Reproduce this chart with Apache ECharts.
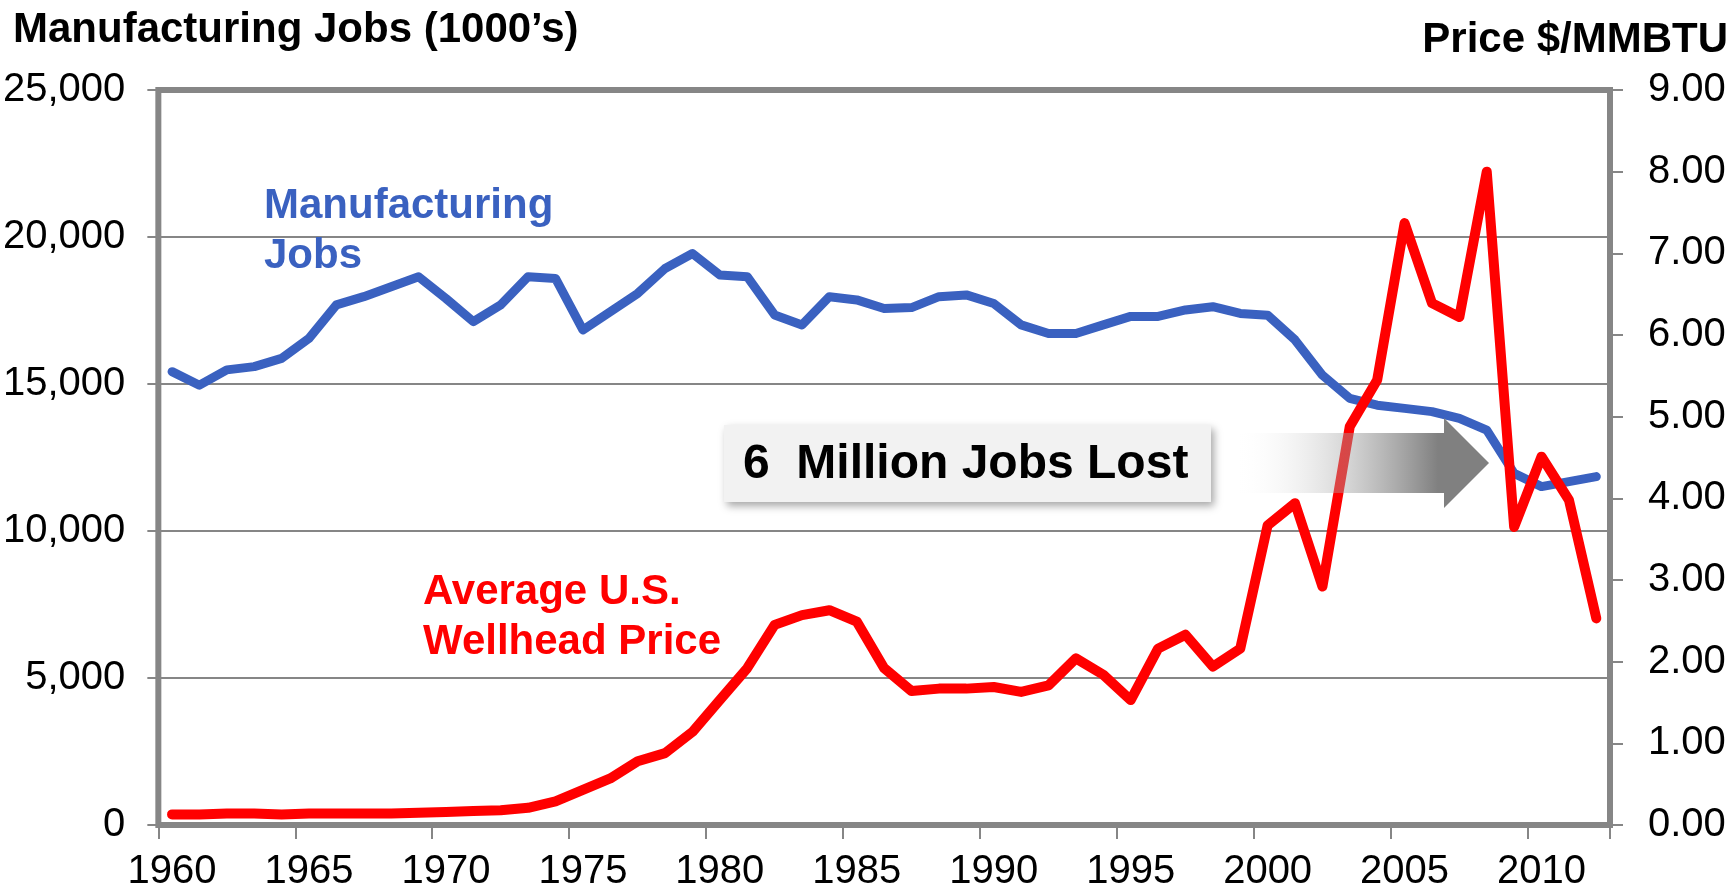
<!DOCTYPE html>
<html>
<head>
<meta charset="utf-8">
<script src="https://cdn.jsdelivr.net/npm/echarts@6/dist/echarts.min.js"></script>
<style>
html,body{margin:0;padding:0;background:#fff;}
#chart{width:1733px;height:895px;}
</style>
</head>
<body>
<div id="chart"></div>
<script>
var years = ['1960','1961','1962','1963','1964','1965','1966','1967','1968','1969',
  '1970','1971','1972','1973','1974','1975','1976','1977','1978','1979',
  '1980','1981','1982','1983','1984','1985','1986','1987','1988','1989',
  '1990','1991','1992','1993','1994','1995','1996','1997','1998','1999',
  '2000','2001','2002','2003','2004','2005','2006','2007','2008','2009',
  '2010','2011','2012'];

var manufacturingJobs = [15420,14960,15480,15590,15870,16550,17690,17970,18310,18650,
  17910,17120,17690,18650,18590,16840,17460,18080,18930,19440,
  18710,18650,17350,17010,17970,17860,17570,17600,17970,18030,
  17740,17010,16720,16720,17010,17300,17300,17520,17630,17400,
  17340,16500,15300,14510,14280,14170,14060,13830,13430,11960,
  11510,11680,11850];

var wellheadPrice = [0.13,0.13,0.14,0.14,0.13,0.14,0.14,0.14,0.14,0.15,
  0.16,0.17,0.18,0.21,0.29,0.43,0.57,0.78,0.88,1.14,
  1.53,1.92,2.45,2.57,2.63,2.49,1.92,1.64,1.67,1.67,
  1.69,1.63,1.71,2.04,1.84,1.53,2.16,2.33,1.94,2.16,
  3.67,3.94,2.92,4.88,5.45,7.37,6.39,6.22,8.00,3.65,
  4.51,3.98,2.53];

var leftTickLabels = ['0','5,000','10,000','15,000','20,000','25,000'];
var rightTickLabels = ['0.00','1.00','2.00','3.00','4.00','5.00','6.00','7.00','8.00','9.00'];

var FONT = '"Liberation Sans", Arial, Helvetica, sans-serif';
var GRAY = '#868686';

var chart = echarts.init(document.getElementById('chart'), null, {renderer:'canvas'});

var option = {
  animation: false,
  backgroundColor: '#ffffff',
  grid: {
    left: 156, right: 123, top: 90, bottom: 70,
    show: true, borderColor: GRAY, borderWidth: 6, backgroundColor: 'transparent'
  },
  xAxis: {
    type: 'category',
    data: years,
    boundaryGap: true,
    axisLine: {show: false},
    axisTick: {show: true, interval: 4, length: 14, alignWithLabel: false,
      lineStyle: {color: GRAY, width: 2}},
    axisLabel: {interval: 4, color: '#000', fontSize: 40, fontFamily: FONT, margin: 27},
    splitLine: {show: false}
  },
  yAxis: [
    {
      type: 'value', position: 'left', min: 0, max: 25000, interval: 5000,
      axisLine: {show: false},
      axisTick: {show: true, length: 11, lineStyle: {color: GRAY, width: 2}},
      axisLabel: {color: '#000', fontSize: 40, fontFamily: FONT, margin: 33,
        formatter: function (v) { return leftTickLabels[Math.round(v / 5000)]; }},
      splitLine: {show: true, lineStyle: {color: GRAY, width: 2}}
    },
    {
      type: 'value', position: 'right', min: 0, max: 9, interval: 1,
      axisLine: {show: false},
      axisTick: {show: true, length: 13, lineStyle: {color: GRAY, width: 2}},
      axisLabel: {color: '#000', fontSize: 40, fontFamily: FONT, margin: 38,
        formatter: function (v) { return rightTickLabels[Math.round(v)]; }},
      splitLine: {show: false}
    }
  ],
  series: [
    {
      name: 'Manufacturing Jobs', type: 'line', yAxisIndex: 0,
      data: manufacturingJobs, showSymbol: false, symbol: 'none', z: 3,
      lineStyle: {color: '#3A61C0', width: 9, cap: 'round', join: 'round'}
    },
    {
      name: 'Average U.S. Wellhead Price', type: 'line', yAxisIndex: 1,
      data: wellheadPrice, showSymbol: false, symbol: 'none', z: 4,
      lineStyle: {color: '#FF0000', width: 10, cap: 'round', join: 'round'}
    }
  ],
  graphic: {
    elements: [
      {type: 'text', z: 100, style: {x: 13, y: 30, text: 'Manufacturing Jobs (1000\u2019s)',
        font: 'bold 42px ' + FONT, fill: '#000', textAlign: 'left', textVerticalAlign: 'middle'}},
      {type: 'text', z: 100, style: {x: 1728, y: 40, text: 'Price $/MMBTU',
        font: 'bold 42px ' + FONT, fill: '#000', textAlign: 'right', textVerticalAlign: 'middle'}},
      {type: 'text', z: 100, style: {x: 264, y: 206, text: 'Manufacturing',
        font: 'bold 42px ' + FONT, fill: '#3A61C0', textAlign: 'left', textVerticalAlign: 'middle'}},
      {type: 'text', z: 100, style: {x: 264, y: 256, text: 'Jobs',
        font: 'bold 42px ' + FONT, fill: '#3A61C0', textAlign: 'left', textVerticalAlign: 'middle'}},
      {type: 'text', z: 100, style: {x: 423, y: 592, text: 'Average U.S.',
        font: 'bold 42px ' + FONT, fill: '#FF0000', textAlign: 'left', textVerticalAlign: 'middle'}},
      {type: 'text', z: 100, style: {x: 423, y: 642, text: 'Wellhead Price',
        font: 'bold 42px ' + FONT, fill: '#FF0000', textAlign: 'left', textVerticalAlign: 'middle'}},
      {type: 'rect', z: 100, shape: {x: 724, y: 425, width: 487, height: 77},
        style: {fill: '#F2F2F2', shadowBlur: 8, shadowOffsetX: 3, shadowOffsetY: 4,
          shadowColor: 'rgba(0,0,0,0.35)'}},
      {type: 'text', z: 101, style: {x: 743, y: 465, text: '6  Million Jobs Lost',
        font: 'bold 48px ' + FONT, fill: '#000', textAlign: 'left', textVerticalAlign: 'middle'}},
      {type: 'polygon', z: 100,
        shape: {points: [[1234,433],[1444,433],[1444,418],[1489,463],[1444,508],[1444,493],[1234,493]]},
        style: {fill: new echarts.graphic.LinearGradient(0, 0, 1, 0, [
          {offset: 0, color: 'rgba(255,255,255,0)'},
          {offset: 0.5, color: 'rgba(150,150,150,0.5)'},
          {offset: 0.8, color: 'rgba(128,128,128,1)'},
          {offset: 1, color: 'rgba(128,128,128,1)'}
        ])}}
    ]
  }
};
chart.setOption(option);
</script>
</body>
</html>
